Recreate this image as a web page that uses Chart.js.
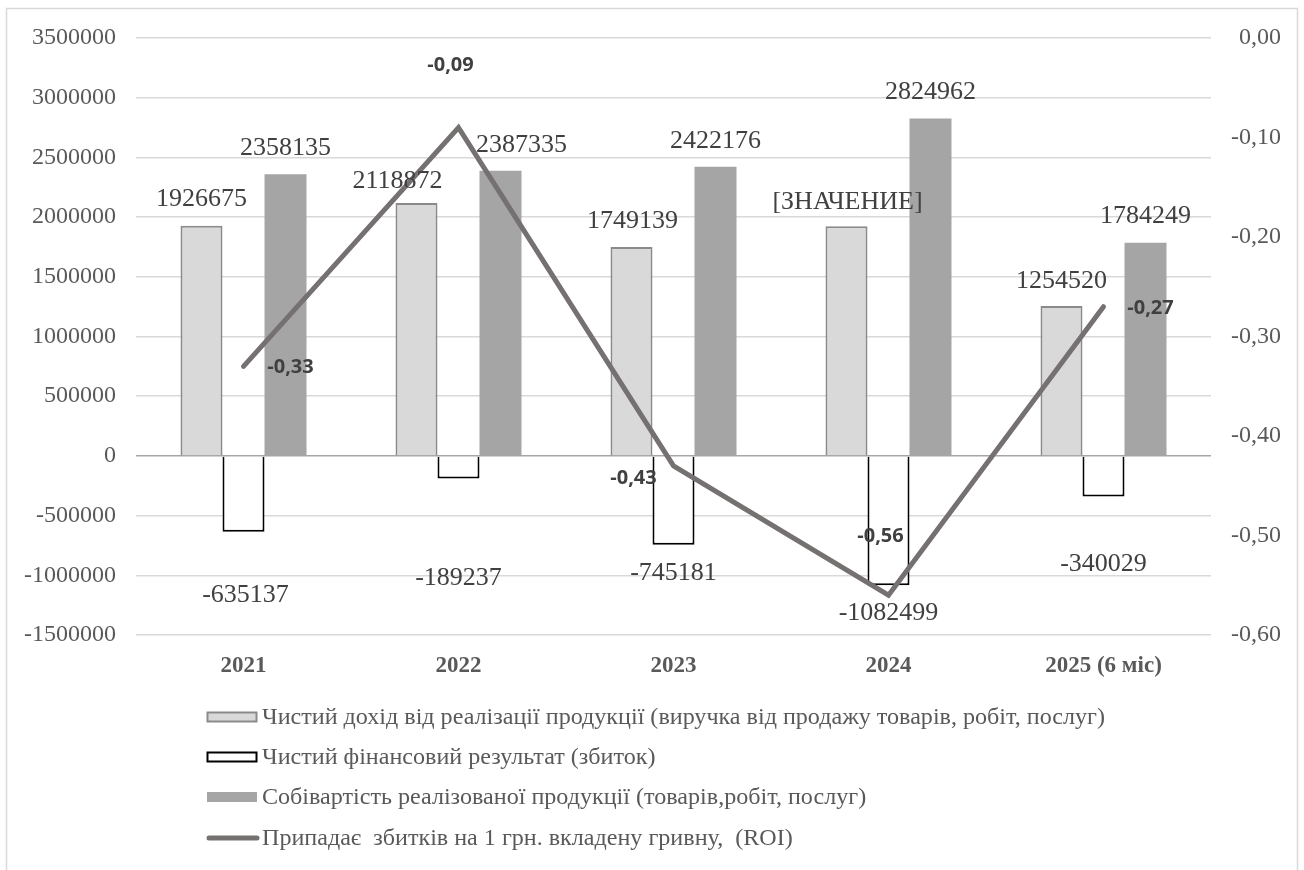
<!DOCTYPE html>
<html>
<head>
<meta charset="utf-8">
<script src="https://cdn.jsdelivr.net/npm/chart.js@4.4.1/dist/chart.umd.min.js"></script>
<style>
  html, body { margin: 0; padding: 0; background: #ffffff; }
  #wrap { width: 1304px; height: 870px; position: relative; }
  canvas { display: block; }
</style>
</head>
<body>
<div id="wrap"><canvas id="chart" width="1304" height="870"></canvas></div>
<script>
// ---- data ----
const categories = ['2021', '2022', '2023', '2024', '2025 (6 міс)'];
const revenue = [1926675, 2118872, 1749139, 1924000, 1254520];
const netResult = [-635137, -189237, -745181, -1082499, -340029];
const costOfSales = [2358135, 2387335, 2422176, 2824962, 1784249];
const roi = [-0.33, -0.09, -0.43, -0.56, -0.27];
const revenueLabelText = [null, null, null, '[ЗНАЧЕНИЕ]', null];
const leftTickLabels = ['-1500000', '-1000000', '-500000', '0', '500000', '1000000',
                        '1500000', '2000000', '2500000', '3000000', '3500000'];
const rightTickLabels = ['-0,60', '-0,50', '-0,40', '-0,30', '-0,20', '-0,10', '0,00'];
const seriesNames = [
  'Чистий дохід від реалізації продукції (виручка від продажу товарів, робіт, послуг)',
  'Чистий фінансовий результат (збиток)',
  'Собівартість реалізованої продукції (товарів,робіт, послуг)',
  'Припадає  збитків на 1 грн. вкладену гривну,  (ROI)'
];

// ---- label placement (pixel nudges from each bar end / point) ----
const labelNudges = {
  0: [[0, -27], [-19, -22], [1, -26], [1, -24], [0, -25]],
  1: [[2, 63], [0, 100], [0, 28], [0, 28], [0, 68]],
  2: [[0, -26], [21, -26], [0, -26], [0, -26], [0, -27]],
  3: [[47, 1], [-8, -62], [-40, 12], [-8, -59], [47, 2]]
};

const SERIF = '"Liberation Serif", "Times New Roman", serif';
const SANS = '"Open Sans", "Liberation Sans", sans-serif';

function fmtRoi(v) { return v.toFixed(2).replace('.', ','); }

const frame = {
  id: 'frame',
  beforeDraw(chart) {
    const ctx = chart.ctx;
    ctx.save();
    ctx.fillStyle = '#ffffff';
    ctx.fillRect(0, 0, chart.width, chart.height);
    ctx.strokeStyle = '#d9d9d9';
    ctx.lineWidth = 1.5;
    ctx.strokeRect(6.5, 8.5, chart.width - 13, chart.height + 20);
    ctx.restore();
  }
};

const valueLabels = {
  id: 'valueLabels',
  afterDatasetsDraw(chart) {
    const ctx = chart.ctx;
    ctx.save();
    ctx.textAlign = 'center';
    ctx.textBaseline = 'middle';
    chart.data.datasets.forEach((ds, di) => {
      const meta = chart.getDatasetMeta(di);
      meta.data.forEach((el, i) => {
        const v = ds.data[i];
        let text;
        if (di === 3) {
          text = fmtRoi(v);
          ctx.font = 'bold 20px ' + SANS;
          ctx.fillStyle = '#404040';
        } else {
          text = (di === 0 && revenueLabelText[i]) ? revenueLabelText[i] : String(v);
          ctx.font = '26px ' + SERIF;
          ctx.fillStyle = '#404040';
        }
        const [dx, dy] = labelNudges[di][i];
        ctx.fillText(text, el.x + dx, el.y + dy);
      });
    });
    ctx.restore();
  }
};

const rowLegend = {
  id: 'rowLegend',
  afterDraw(chart) {
    const ctx = chart.ctx;
    const swatchX = 207, swatchW = 50, swatchH = 10, textX = 262;
    const rowY = [717, 757, 797, 838];
    const legendTextWidth = 843;
    ctx.save();
    ctx.font = '24px ' + SERIF;
    const sx = legendTextWidth / ctx.measureText(seriesNames[0]).width;
    seriesNames.forEach((name, i) => {
      const y = rowY[i];
      if (i === 3) {
        ctx.strokeStyle = '#767171';
        ctx.lineWidth = 5;
        ctx.lineCap = 'round';
        ctx.beginPath();
        ctx.moveTo(swatchX + 2, y);
        ctx.lineTo(swatchX + swatchW, y);
        ctx.stroke();
      } else {
        const ds = chart.data.datasets[i];
        ctx.fillStyle = ds.backgroundColor;
        ctx.fillRect(swatchX, y - swatchH / 2, swatchW, swatchH);
        if (ds.borderWidth) {
          ctx.strokeStyle = ds.borderColor;
          ctx.lineWidth = ds.borderWidth;
          ctx.strokeRect(swatchX + 0.5, y - swatchH / 2 + 0.5, swatchW - 1, swatchH - 1);
        }
      }
      ctx.save();
      ctx.translate(textX, y);
      ctx.scale(sx, 1);
      ctx.fillStyle = '#595959';
      ctx.textAlign = 'left';
      ctx.textBaseline = 'middle';
      ctx.fillText(name, 0, 1);
      ctx.restore();
    });
    ctx.restore();
  }
};

new Chart(document.getElementById('chart'), {
  data: {
    labels: categories,
    datasets: [
      {
        type: 'bar', label: seriesNames[0], data: revenue, yAxisID: 'y', order: 1,
        backgroundColor: '#d9d9d9', borderColor: '#8a8a8a', borderWidth: 2,
        categoryPercentage: 0.586, barPercentage: 1
      },
      {
        type: 'bar', label: seriesNames[1], data: netResult, yAxisID: 'y', order: 1,
        backgroundColor: '#ffffff', borderColor: '#000000', borderWidth: 2,
        categoryPercentage: 0.586, barPercentage: 1
      },
      {
        type: 'bar', label: seriesNames[2], data: costOfSales, yAxisID: 'y', order: 1,
        backgroundColor: '#a5a5a5', borderWidth: 0,
        categoryPercentage: 0.586, barPercentage: 1
      },
      {
        type: 'line', label: seriesNames[3], data: roi, yAxisID: 'y1', order: 0,
        borderColor: '#767171', backgroundColor: '#767171', borderWidth: 5,
        pointRadius: 0, tension: 0, fill: false, borderCapStyle: 'round'
      }
    ]
  },
  options: {
    responsive: false,
    animation: false,
    devicePixelRatio: 1,
    layout: { padding: { top: 38, right: 23, left: 0, bottom: 0 } },
    plugins: {
      legend: { display: false },
      tooltip: { enabled: false }
    },
    scales: {
      x: {
        grid: { display: false },
        border: { display: false },
        ticks: {
          color: '#595959', padding: 9,
          font: { family: SERIF, size: 23, weight: 'bold' }
        },
        afterFit(s) { s.height = 235; }
      },
      y: {
        position: 'left',
        min: -1500000, max: 3500000,
        border: { display: false },
        grid: {
          drawTicks: false,
          lineWidth: 1.5,
          color: (c) => (c.tick && c.tick.value === 0) ? '#a6a6a6' : '#d9d9d9'
        },
        ticks: {
          stepSize: 500000, padding: 20, color: '#595959',
          font: { family: SERIF, size: 24 },
          callback: (v, i) => leftTickLabels[i]
        },
        afterFit(s) { s.width = 136; }
      },
      y1: {
        position: 'right',
        min: -0.6, max: 0,
        border: { display: false },
        grid: { display: false, drawTicks: false },
        ticks: {
          stepSize: 0.1, padding: 10, color: '#595959', crossAlign: 'far',
          font: { family: SERIF, size: 24 },
          callback: (v, i) => rightTickLabels[i]
        },
        afterFit(s) { s.width = 70; }
      }
    }
  },
  plugins: [frame, valueLabels, rowLegend]
});
</script>
</body>
</html>
